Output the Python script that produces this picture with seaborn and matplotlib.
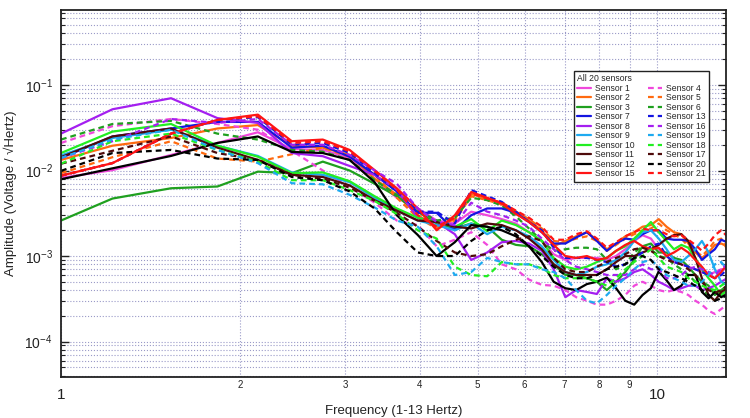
import matplotlib
matplotlib.use("Agg")
import matplotlib.pyplot as plt
from matplotlib.lines import Line2D
from matplotlib.ticker import LogLocator, NullFormatter, FixedLocator, FixedFormatter
import pandas as pd
import seaborn as sns

# ---------------- data (amplitudes in units of 1e-3 V/sqrt(Hz)) ----------------
freqs = [1.00, 1.22, 1.53, 1.83, 2.14, 2.44, 2.75, 3.05, 3.36, 3.66,
         3.97, 4.27, 4.58, 4.88, 5.19, 5.49, 5.80, 6.10, 6.41, 6.71, 7.02, 7.32,
         7.63, 7.93, 8.24, 8.54, 8.85, 9.16, 9.46, 9.77, 10.07, 10.38, 10.68,
         10.99, 11.29, 11.60, 11.90, 12.21, 12.51, 12.82, 13.12]

sensor_1 = [8.2, 10.1, 15.2, 21, 28, 17.8, 17.4, 14, 8, 4.8,
            3.6, 2.6, 2.4, 3.3, 3.0, 2.7, 2.4, 1.9, 1.5, 1.05, 0.9, 0.95,
            0.95, 0.95, 0.9, 1.0, 1.2, 1.5, 1.75, 1.6, 1.2, 1.0, 0.85, 0.8, 0.75, 0.7, 0.65, 0.6, 0.65, 0.7, 0.7]
sensor_2 = [13.3, 19.5, 24, 31, 34, 19.5, 18.5, 15.2, 8, 5.2,
            3.0, 2.2, 2.7, 5.3, 4.7, 4.2, 3.3, 2.6, 2.0, 1.3, 1.5, 1.7,
            1.9, 1.55, 1.2, 1.4, 1.7, 1.9, 2.2, 2.3, 2.7, 2.2, 1.9, 1.8, 1.4, 1.1, 0.95, 1.1, 1.35, 1.4, 1.3]
sensor_3 = [2.6, 4.7, 6.2, 6.5, 9.7, 9.3, 12.7, 10.0, 7.0, 5.0,
            3.3, 2.4, 2.1, 2.4, 2.2, 1.55, 1.35, 1.3, 1.05, 0.8, 0.6, 0.6,
            0.55, 0.5, 0.4, 0.5, 0.65, 0.9, 1.3, 1.4, 1.1, 1.1, 0.95, 0.9, 0.75, 0.6, 0.5, 0.45, 0.35, 0.4, 0.45]
sensor_4 = [21, 33, 40, 35, 30, 17, 10, 6.5, 4.2, 2.6,
            2.3, 1.3, 1.55, 1.9, 1.35, 0.8, 0.7, 0.53, 0.46, 0.45, 0.4, 0.33,
            0.3, 0.27, 0.27, 0.3, 0.35, 0.45, 0.5, 0.45, 0.4, 0.38, 0.4, 0.38, 0.35, 0.3, 0.27, 0.23, 0.21, 0.24, 0.27]
sensor_5 = [9.3, 14.3, 22, 13.8, 12.7, 15.5, 18.5, 14.5, 8.9, 4.8,
            2.8, 2.1, 2.6, 5.0, 4.5, 4.0, 3.3, 2.7, 2.1, 1.5, 1.45, 1.6,
            1.7, 1.5, 1.15, 1.35, 1.6, 1.8, 2.0, 2.1, 2.4, 2.0, 1.8, 1.6, 1.3, 1.15, 1.0, 1.2, 1.5, 1.6, 1.2]
sensor_6 = [23, 35, 38, 27, 23, 17.4, 16.6, 13.3, 7.7, 5.2,
            3.4, 2.6, 2.8, 4.8, 4.5, 3.9, 2.9, 2.1, 1.5, 1.15, 1.2, 1.25,
            1.25, 1.2, 0.9, 0.7, 0.8, 1.1, 1.3, 1.2, 1.0, 0.95, 0.8, 0.7, 0.6, 0.5, 0.4, 0.35, 0.3, 0.35, 0.4]
sensor_7 = [14, 25, 31, 37, 37, 18.5, 19.5, 14.5, 8.9, 5.7,
            3.2, 3.2, 2.0, 3.0, 3.6, 3.6, 3.2, 2.5, 1.9, 1.4, 1.4, 1.65,
            1.9, 1.5, 1.15, 1.4, 1.6, 1.55, 1.8, 2.0, 2.0, 1.6, 1.55, 1.55, 1.5, 1.2, 0.9, 1.05, 1.2, 1.55, 1.45]
sensor_8 = [27, 52, 70, 41, 36, 16, 14.7, 11.3, 8.9, 6.0,
            2.8, 2.5, 1.8, 0.9, 1.1, 1.45, 1.5, 1.4, 1.15, 0.7, 0.33, 0.4,
            0.38, 0.36, 0.55, 0.5, 0.55, 0.65, 0.7, 0.6, 0.5, 0.45, 0.4, 0.42, 0.45, 0.45, 0.4, 0.42, 0.45, 0.5, 0.55]
sensor_9 = [15, 24, 30, 19.5, 14.8, 9.5, 8.9, 7.3, 4.8, 3.4,
            2.6, 2.3, 2.0, 2.4, 1.8, 2.2, 2.0, 1.7, 1.3, 0.9, 0.65, 0.6,
            0.65, 0.75, 0.8, 0.9, 1.1, 1.5, 1.9, 2.0, 1.6, 1.2, 0.9, 0.85, 1.0, 1.2, 1.5, 1.1, 0.7, 0.5, 0.45]
sensor_10 = [16, 28.5, 35, 19.5, 14.5, 9.3, 9.5, 7.5, 5.0, 3.6,
             2.8, 2.5, 2.2, 2.7, 1.95, 2.6, 2.3, 1.9, 1.5, 0.95, 0.75, 0.7,
             0.75, 0.85, 0.95, 1.15, 1.3, 1.6, 2.0, 2.5, 1.9, 1.5, 1.2, 1.35, 1.25, 0.95, 0.7, 0.55, 0.45, 0.35, 0.4]
sensor_11 = [14.3, 25, 31, 18.5, 13.3, 8.9, 8.4, 6.7, 4.5, 3.4,
             2.6, 2.5, 2.2, 2.1, 2.4, 2.3, 2.0, 1.6, 1.2, 0.8, 0.65, 0.6,
             0.6, 0.6, 0.7, 0.85, 1.0, 1.0, 1.1, 1.2, 1.35, 1.6, 1.75, 1.8, 1.5, 0.95, 0.55, 0.35, 0.3, 0.38, 0.42]
sensor_12 = [7.9, 10.6, 14.8, 21, 25, 16.5, 16, 13.3, 7.3, 3.0,
             1.76, 1.0, 1.45, 2.3, 2.2, 2.0, 1.7, 1.3, 0.85, 0.5, 0.42, 0.4,
             0.47, 0.5, 0.56, 0.42, 0.3, 0.27, 0.35, 0.42, 0.66, 0.52, 0.4, 0.45, 0.6, 0.6, 0.38, 0.32, 0.38, 0.33, 0.36]
sensor_13 = [8.7, 12.2, 27, 39, 42, 20, 21, 16, 9.3, 5.7,
             3.3, 3.3, 2.4, 5.9, 5.0, 4.3, 3.3, 2.5, 2.0, 1.25, 0.95, 0.95,
             0.95, 0.9, 0.85, 0.75, 0.8, 0.95, 1.1, 1.3, 1.4, 1.0, 0.85, 0.8, 0.75, 0.7, 0.65, 0.6, 0.55, 0.6, 0.7]
sensor_15 = [8.7, 12.2, 27, 39, 45, 22, 23, 17.4, 10.1, 6.2,
             3.6, 2.0, 3.0, 5.6, 4.8, 4.1, 3.1, 2.5, 1.9, 1.35, 1.0, 0.95,
             1.0, 0.9, 0.95, 1.15, 1.35, 1.5, 1.3, 1.2, 1.25, 1.0, 1.1, 1.25, 1.1, 0.9, 0.75, 0.6, 0.55, 0.65, 0.8]
sensor_16 = [14, 22, 40, 36, 40, 20, 20, 15.2, 10.0, 7.0,
             3.6, 2.5, 2.3, 4.2, 3.3, 3.0, 2.6, 2.2, 1.6, 1.2, 0.9, 0.75,
             0.7, 0.65, 0.6, 0.6, 0.6, 0.7, 0.8, 0.7, 0.7, 0.55, 0.55, 0.6, 0.7, 0.75, 0.7, 0.65, 0.6, 0.7, 0.8]
sensor_17 = [12, 17, 25, 16, 13.3, 8.9, 8.0, 6.3, 4.4, 3.2,
             2.2, 1.5, 1.1, 1.0, 1.05, 1.3, 1.55, 1.7, 1.5, 0.95, 0.7, 0.65,
             0.65, 0.75, 0.85, 0.95, 1.05, 1.2, 1.25, 1.15, 1.0, 0.9, 0.85, 0.8, 0.7, 0.6, 0.5, 0.4, 0.37, 0.4, 0.45]
sensor_18 = [12, 22, 27, 17.4, 12.7, 7.7, 7.7, 5.9, 4.4, 3.1,
             2.0, 1.6, 0.75, 0.6, 0.58, 0.85, 0.8, 0.8, 0.72, 0.6, 0.55, 0.55,
             0.55, 0.5, 0.45, 0.55, 0.7, 0.85, 1.0, 1.2, 0.95, 0.75, 0.7, 0.65, 0.55, 0.5, 0.45, 0.42, 0.4, 0.45, 0.5]
sensor_19 = [14, 23, 30, 17.4, 12.2, 7.1, 6.9, 5.2, 3.7, 2.6,
             2.2, 1.3, 0.6, 0.65, 0.95, 0.85, 0.8, 0.8, 0.7, 0.65, 0.55, 0.4,
             0.3, 0.28, 0.35, 0.45, 0.55, 0.7, 0.85, 0.9, 0.75, 0.6, 0.55, 0.5, 0.45, 0.45, 0.5, 0.6, 0.8, 0.85, 0.7]
sensor_20 = [9.9, 16, 17.4, 13.8, 13.3, 8.4, 7.7, 5.7, 3.6, 1.9,
             1.1, 1.0, 1.0, 1.5, 2.0, 2.2, 1.8, 1.3, 1.0, 0.75, 0.6, 0.55,
             0.55, 0.6, 0.7, 0.75, 0.8, 0.95, 1.0, 0.9, 0.7, 0.65, 0.6, 0.55, 0.5, 0.45, 0.4, 0.35, 0.3, 0.32, 0.35]
sensor_21 = [8.7, 12.2, 27, 39, 43, 21, 22, 16.8, 9.8, 6.0,
             3.0, 2.2, 2.8, 5.4, 4.7, 4.2, 3.4, 2.8, 2.2, 1.55, 1.55, 1.8,
             1.95, 1.6, 1.25, 1.45, 1.7, 1.9, 2.1, 2.0, 2.0, 1.8, 1.7, 1.75, 1.55, 1.35, 1.15, 1.4, 1.75, 2.0, 1.7]

series = {
    "Sensor 1": sensor_1, "Sensor 2": sensor_2, "Sensor 3": sensor_3,
    "Sensor 4": sensor_4, "Sensor 5": sensor_5, "Sensor 6": sensor_6,
    "Sensor 7": sensor_7, "Sensor 8": sensor_8, "Sensor 9": sensor_9,
    "Sensor 10": sensor_10, "Sensor 11": sensor_11, "Sensor 12": sensor_12,
    "Sensor 13": sensor_13, "Sensor 15": sensor_15, "Sensor 16": sensor_16,
    "Sensor 17": sensor_17, "Sensor 18": sensor_18, "Sensor 19": sensor_19,
    "Sensor 20": sensor_20, "Sensor 21": sensor_21,
}

legend_col1 = ["Sensor 1", "Sensor 2", "Sensor 3", "Sensor 7", "Sensor 8",
               "Sensor 9", "Sensor 10", "Sensor 11", "Sensor 12", "Sensor 15"]
legend_col2 = ["Sensor 4", "Sensor 5", "Sensor 6", "Sensor 13", "Sensor 16",
               "Sensor 19", "Sensor 18", "Sensor 17", "Sensor 20", "Sensor 21"]
row_colors = ["#f048dc", "#ff6a10", "#1fa01f", "#1414e0", "#a41ff0",
              "#1eaaf0", "#22ee22", "#4e0a0a", "#000000", "#ff1414"]
DASH = (2.6, 1.8)

palette = {}
dash_map = {}
for name, c in zip(legend_col1, row_colors):
    palette[name] = c
    dash_map[name] = ""
for name, c in zip(legend_col2, row_colors):
    palette[name] = c
    dash_map[name] = DASH

order = list(series.keys())
rows = []
for name in order:
    for f, v in zip(freqs, series[name]):
        rows.append({"freq": f, "amp": v * 1e-3, "sensor": name})
df = pd.DataFrame(rows)

# ---------------- plot ----------------
sns.set_theme(style="white")
plt.rcParams["font.family"] = ["Liberation Sans", "DejaVu Sans"]
plt.rcParams["mathtext.default"] = "regular"

fig = plt.figure(figsize=(7.5, 4.18), dpi=100)
ax = fig.add_axes([61 / 750, 1 - 377 / 418, 665 / 750, 367 / 418])

sns.lineplot(data=df, x="freq", y="amp", hue="sensor", style="sensor",
             hue_order=order, style_order=order, palette=palette,
             dashes=dash_map, estimator=None, sort=False, legend=False,
             linewidth=1.6, ax=ax)

ax.set_xscale("log")
ax.set_yscale("log")
ax.set_xlim(1, 13.06)
ax.set_ylim(3.85e-5, 0.753)

# x ticks
ax.xaxis.set_major_locator(FixedLocator([1, 10]))
ax.xaxis.set_major_formatter(FixedFormatter(["1", "10"]))
ax.xaxis.set_minor_locator(FixedLocator([2, 3, 4, 5, 6, 7, 8, 9]))
ax.xaxis.set_minor_formatter(FixedFormatter(["2", "3", "4", "5", "6", "7", "8", "9"]))
ax.tick_params(axis="x", which="major", direction="in", length=7, width=1,
               pad=8, labelsize=11, colors="#222222", top=False)
ax.tick_params(axis="x", which="minor", direction="in", length=4, width=0.8,
               pad=2.5, labelsize=7, colors="#222222", top=False)

# y ticks
ax.yaxis.set_major_locator(LogLocator(base=10, numticks=10))
ax.yaxis.set_minor_locator(LogLocator(base=10, subs=[2, 3, 4, 5, 6, 7, 8, 9], numticks=20))
ax.yaxis.set_minor_formatter(NullFormatter())
ax.tick_params(axis="y", which="major", direction="in", length=6, width=1,
               pad=6, labelsize=10, left=True, right=True, colors="#222222")
ax.tick_params(axis="y", which="minor", direction="in", length=3, width=0.8,
               left=True, right=True, colors="#222222")

ax.grid(which="both", axis="both", color="#9a9ac8", linestyle=":", linewidth=0.8)
ax.set_axisbelow(True)

for sp in ax.spines.values():
    sp.set_color("#222222")
    sp.set_linewidth(1.3)

ax.set_xlabel("Frequency (1-13 Hertz)", fontsize=9.5, color="#222222")
ax.set_ylabel("Amplitude (Voltage / \u221aHertz)", fontsize=9.5, color="#222222")
ax.xaxis.set_label_coords(0.5, -0.075)
ax.yaxis.set_label_coords(-0.066, 0.5)

handles = []
labels = []
for name in legend_col1 + legend_col2:
    h = Line2D([0], [0], color=palette[name], lw=1.6)
    if dash_map[name] != "":
        h.set_dashes(dash_map[name])
    handles.append(h)
    labels.append(name)

leg = ax.legend(handles, labels, ncol=2, title="All 20 sensors",
                loc="upper right", bbox_to_anchor=(713 / 750, 1 - 67 / 418),
                bbox_transform=fig.transFigure, fontsize=6.2, title_fontsize=6.2,
                frameon=True, fancybox=False, edgecolor="#222222", framealpha=1,
                handlelength=1.6, labelspacing=0.06, columnspacing=1.5,
                borderpad=0.35, handletextpad=0.5, alignment="left")
leg.get_frame().set_linewidth(1.0)

fig.savefig("out.png", dpi=100)
